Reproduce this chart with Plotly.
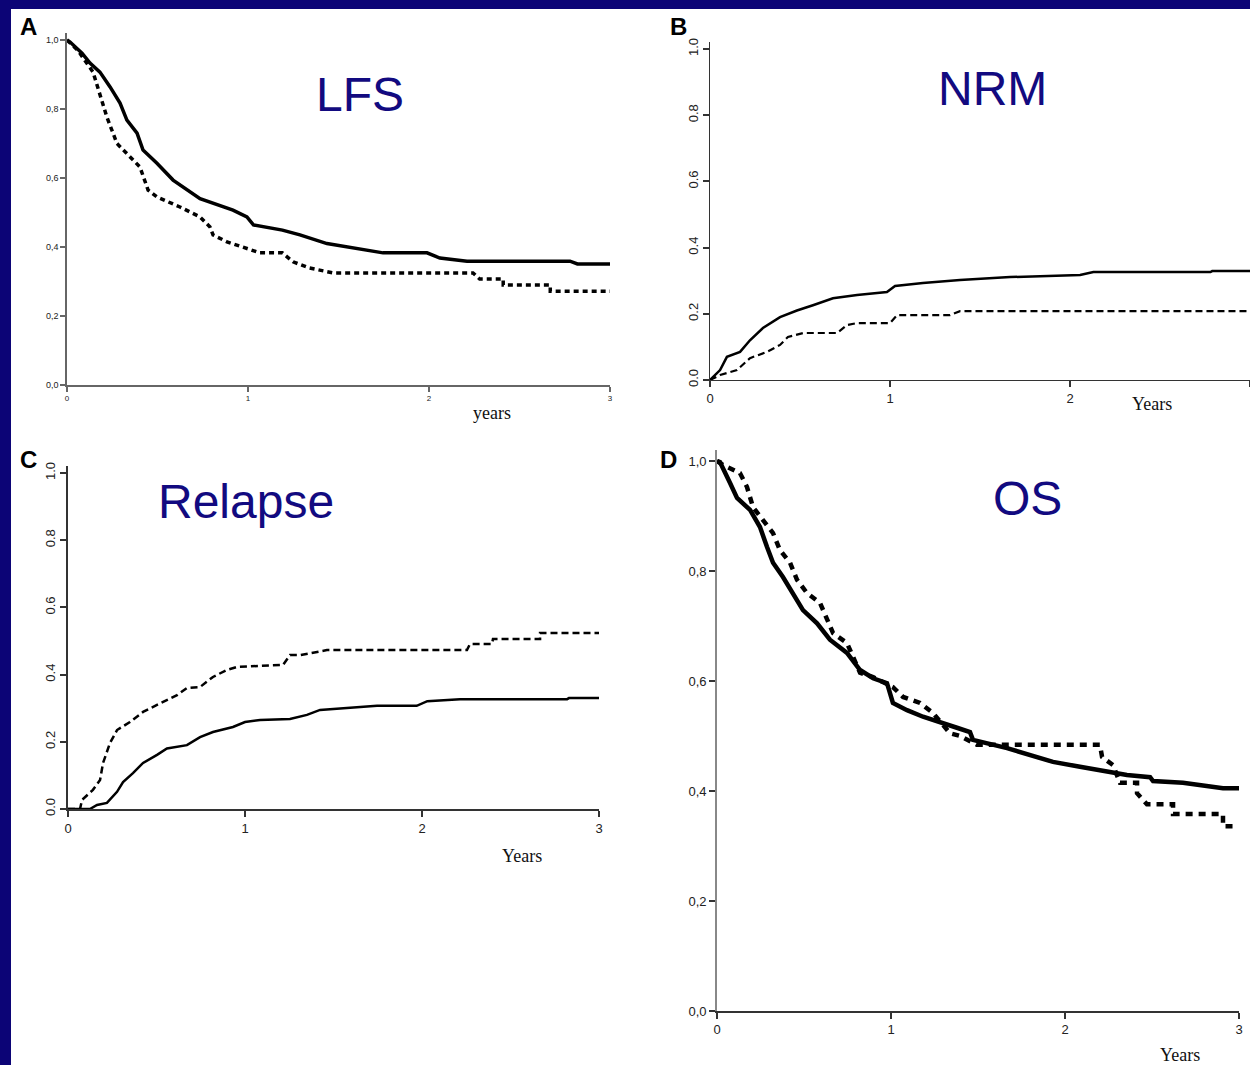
import plotly.graph_objects as go

W, H = 1250, 1065
NAVY = "#0c0476"
TITLE_NAVY = "#120a80"

# ---------------- Data ----------------
# Panel A - LFS
lfs_solid_t = [0, 0.017, 0.083, 0.127, 0.182, 0.238, 0.293, 0.331, 0.387, 0.42, 0.497, 0.586, 0.735, 0.917, 0.994, 1.03, 1.19, 1.287, 1.436, 1.657, 1.746, 1.989, 2.06, 2.21, 2.779, 2.82, 3.0]
lfs_solid_v = [1.0, 0.994, 0.962, 0.933, 0.907, 0.864, 0.817, 0.768, 0.730, 0.681, 0.643, 0.594, 0.540, 0.507, 0.487, 0.464, 0.449, 0.435, 0.41, 0.391, 0.383, 0.383, 0.368, 0.359, 0.359, 0.351, 0.351]
lfs_dash_t = [0, 0.06, 0.144, 0.182, 0.22, 0.276, 0.348, 0.403, 0.448, 0.497, 0.624, 0.735, 0.79, 0.807, 0.884, 0.956, 1.066, 1.19, 1.249, 1.34, 1.47, 2.243, 2.28, 2.41, 2.41, 2.67, 2.67, 3.0]
lfs_dash_v = [1.0, 0.97, 0.907, 0.846, 0.777, 0.70, 0.661, 0.632, 0.565, 0.545, 0.516, 0.487, 0.458, 0.435, 0.415, 0.403, 0.383, 0.383, 0.357, 0.339, 0.325, 0.325, 0.307, 0.307, 0.29, 0.29, 0.272, 0.272]

# Panel B - NRM
nrm_solid_t = [0, 0.056, 0.094, 0.167, 0.222, 0.294, 0.389, 0.483, 0.572, 0.683, 0.817, 0.983, 1.028, 1.183, 1.389, 1.667, 2.056, 2.13, 2.78, 2.79, 3.0]
nrm_solid_v = [0, 0.03, 0.07, 0.085, 0.12, 0.157, 0.19, 0.21, 0.226, 0.247, 0.257, 0.266, 0.284, 0.293, 0.302, 0.311, 0.317, 0.326, 0.326, 0.329, 0.329]
nrm_dash_t = [0, 0.056, 0.15, 0.222, 0.317, 0.389, 0.433, 0.517, 0.706, 0.761, 0.817, 1.0, 1.039, 1.333, 1.389, 3.0]
nrm_dash_v = [0, 0.015, 0.03, 0.066, 0.085, 0.106, 0.13, 0.142, 0.142, 0.166, 0.172, 0.172, 0.196, 0.196, 0.208, 0.208]

# Panel C - Relapse
rel_solid_t = [0, 0.124, 0.164, 0.22, 0.277, 0.311, 0.367, 0.424, 0.503, 0.559, 0.672, 0.746, 0.819, 0.932, 1.0, 1.085, 1.254, 1.35, 1.424, 1.746, 1.97, 2.03, 2.215, 2.82, 2.83, 3.0]
rel_solid_v = [0, 0, 0.012, 0.018, 0.051, 0.08, 0.107, 0.137, 0.161, 0.18, 0.19, 0.214, 0.229, 0.244, 0.259, 0.265, 0.268, 0.28, 0.295, 0.307, 0.307, 0.321, 0.327, 0.327, 0.33, 0.33]
rel_dash_t = [0, 0.068, 0.079, 0.141, 0.181, 0.198, 0.237, 0.277, 0.35, 0.424, 0.503, 0.616, 0.672, 0.746, 0.819, 0.898, 0.955, 1.215, 1.254, 1.311, 1.463, 2.254, 2.271, 2.395, 2.401, 2.667, 2.667, 3.0]
rel_dash_v = [0, 0, 0.027, 0.057, 0.086, 0.137, 0.196, 0.235, 0.259, 0.289, 0.31, 0.339, 0.36, 0.363, 0.393, 0.414, 0.423, 0.429, 0.458, 0.458, 0.473, 0.473, 0.491, 0.491, 0.506, 0.506, 0.524, 0.524]

# Panel D - OS
os_solid_t = [0, 0.017, 0.075, 0.115, 0.19, 0.247, 0.287, 0.322, 0.379, 0.437, 0.494, 0.575, 0.649, 0.747, 0.822, 0.897, 0.977, 1.011, 1.092, 1.184, 1.282, 1.379, 1.454, 1.471, 1.667, 1.931, 2.086, 2.241, 2.356, 2.489, 2.506, 2.678, 2.793, 2.908, 3.0]
os_solid_v = [1.0, 0.998, 0.96, 0.933, 0.911, 0.88, 0.844, 0.815, 0.789, 0.76, 0.729, 0.705, 0.675, 0.651, 0.62, 0.605, 0.596, 0.56, 0.547, 0.535, 0.524, 0.515, 0.507, 0.493, 0.478, 0.453, 0.444, 0.435, 0.429, 0.425, 0.418, 0.415, 0.409, 0.405, 0.405]
os_dash_t = [0, 0.034, 0.132, 0.172, 0.207, 0.264, 0.322, 0.362, 0.42, 0.46, 0.517, 0.592, 0.632, 0.667, 0.747, 0.782, 0.822, 0.897, 1.011, 1.069, 1.167, 1.241, 1.339, 1.397, 1.494, 2.201, 2.213, 2.276, 2.316, 2.414, 2.414, 2.471, 2.621, 2.621, 2.908, 2.908, 2.977]
os_dash_v = [1.0, 0.993, 0.978, 0.953, 0.916, 0.893, 0.869, 0.838, 0.815, 0.784, 0.76, 0.742, 0.711, 0.687, 0.669, 0.644, 0.615, 0.607, 0.589, 0.571, 0.56, 0.542, 0.505, 0.5, 0.484, 0.484, 0.462, 0.447, 0.415, 0.415, 0.396, 0.376, 0.376, 0.358, 0.358, 0.336, 0.336]

x_tick_vals = [0, 1, 2, 3]
x_tick_text = ["0", "1", "2", "3"]
y_tick_vals = [0, 0.2, 0.4, 0.6, 0.8, 1.0]
y_tick_comma = ["0,0", "0,2", "0,4", "0,6", "0,8", "1,0"]
y_tick_dot = ["0.0", "0.2", "0.4", "0.6", "0.8", "1.0"]

panel_titles = ["LFS", "NRM", "Relapse", "OS"]
panel_letters = ["A", "B", "C", "D"]
x_titles = ["years", "Years", "Years", "Years"]

# ---------------- Layout geometry (pixels) ----------------
YTOP = 1.02
# (x0px, x3px, y0px, y1px)
geo = {
    1: (67, 610, 385, 40),
    2: (710, 1250, 380, 49),
    3: (68, 599, 809, 473),
    4: (717, 1239, 1011, 461),
}

fig = go.Figure()

def add(t, v, idx, width, dash):
    fig.add_trace(go.Scatter(
        x=t, y=v, mode="lines",
        line=dict(color="black", width=width, dash=dash, shape="linear"),
        xaxis="x" if idx == 1 else f"x{idx}",
        yaxis="y" if idx == 1 else f"y{idx}",
        showlegend=False, hoverinfo="skip"))

add(lfs_dash_t, lfs_dash_v, 1, 3.5, "5px,4px")
add(lfs_solid_t, lfs_solid_v, 1, 3.5, "solid")
add(nrm_dash_t, nrm_dash_v, 2, 2.2, "7px,4px")
add(nrm_solid_t, nrm_solid_v, 2, 2.5, "solid")
add(rel_dash_t, rel_dash_v, 3, 2.5, "7px,4px")
add(rel_solid_t, rel_solid_v, 3, 2.5, "solid")
add(os_dash_t, os_dash_v, 4, 4.5, "7px,6px")
add(os_solid_t, os_solid_v, 4, 4.5, "solid")

layout = dict(
    width=W, height=H,
    margin=dict(l=0, r=0, t=0, b=0, pad=0),
    paper_bgcolor=NAVY,
    plot_bgcolor="rgba(0,0,0,0)",
    showlegend=False,
    template="none",
)

axis_styles = {
    1: dict(font=9, xfont=8, ycol="#666", xcol="#666", lw=1.5, ytext=y_tick_comma, yangle=0, tl=5),
    2: dict(font=13, xfont=13, ycol="#333", xcol="#333", lw=1.3, ytext=y_tick_dot, yangle=-90, tl=6),
    3: dict(font=13, xfont=13, ycol="#333", xcol="#333", lw=1.8, ytext=y_tick_dot, yangle=-90, tl=6),
    4: dict(font=13, xfont=13, ycol="#888", xcol="#333", lw=1.6, ytext=y_tick_comma, yangle=0, tl=6),
}

for idx, (x0, x3, y0, y1) in geo.items():
    s = axis_styles[idx]
    ytop_px = y0 - YTOP * (y0 - y1)
    xk = "xaxis" if idx == 1 else f"xaxis{idx}"
    yk = "yaxis" if idx == 1 else f"yaxis{idx}"
    xa = "x" if idx == 1 else f"x{idx}"
    ya = "y" if idx == 1 else f"y{idx}"
    layout[xk] = dict(
        domain=[x0 / W, min(x3 / W, 1.0)], range=[0, 3], anchor=ya,
        automargin=False,
        showgrid=False, zeroline=False, showline=True,
        linecolor=s["xcol"], linewidth=s["lw"],
        ticks="outside", ticklen=s["tl"], tickcolor=s["xcol"], tickwidth=1.5,
        tickvals=x_tick_vals, ticktext=x_tick_text,
        tickfont=dict(family="Liberation Sans", size=s["xfont"], color="#222"),
        fixedrange=True)
    layout[yk] = dict(
        domain=[1 - y0 / H, 1 - ytop_px / H], range=[0, YTOP], anchor=xa,
        automargin=False,
        showgrid=False, zeroline=False, showline=True,
        linecolor=s["ycol"], linewidth=s["lw"],
        ticks="outside", ticklen=s["tl"], tickcolor=s["ycol"] if idx != 4 else "#333", tickwidth=1.5,
        tickvals=y_tick_vals, ticktext=s["ytext"], tickangle=s["yangle"],
        tickfont=dict(family="Liberation Sans", size=s["font"], color="#222"),
        fixedrange=True)

fig.update_layout(**layout)

# white content area
fig.add_shape(type="rect", xref="paper", yref="paper",
              x0=11 / W, x1=1.01, y0=-0.01, y1=1 - 9 / H,
              fillcolor="white", line=dict(width=0), layer="below")

def ann(text, px, py, size, family, color, bold=False):
    fig.add_annotation(
        text=f"<b>{text}</b>" if bold else text,
        x=px / W, y=1 - py / H, xref="paper", yref="paper",
        xanchor="center", yanchor="middle", showarrow=False,
        font=dict(size=size, family=family, color=color))

title_pos = [(360, 94), (992, 89), (246, 502), (1027, 499)]
letter_pos = [(28, 27), (678, 27), (28, 459), (668, 459)]
xtitle_pos = [(492, 413), (1152, 404), (522, 856), (1180, 1055)]

for i in range(4):
    ann(panel_titles[i], title_pos[i][0], title_pos[i][1], 48, "Liberation Sans", TITLE_NAVY)
    ann(panel_letters[i], letter_pos[i][0], letter_pos[i][1], 24, "Liberation Sans", "black", bold=True)
    ann(x_titles[i], xtitle_pos[i][0], xtitle_pos[i][1], 18, "Liberation Serif", "#111")

fig.write_html("out.html")
